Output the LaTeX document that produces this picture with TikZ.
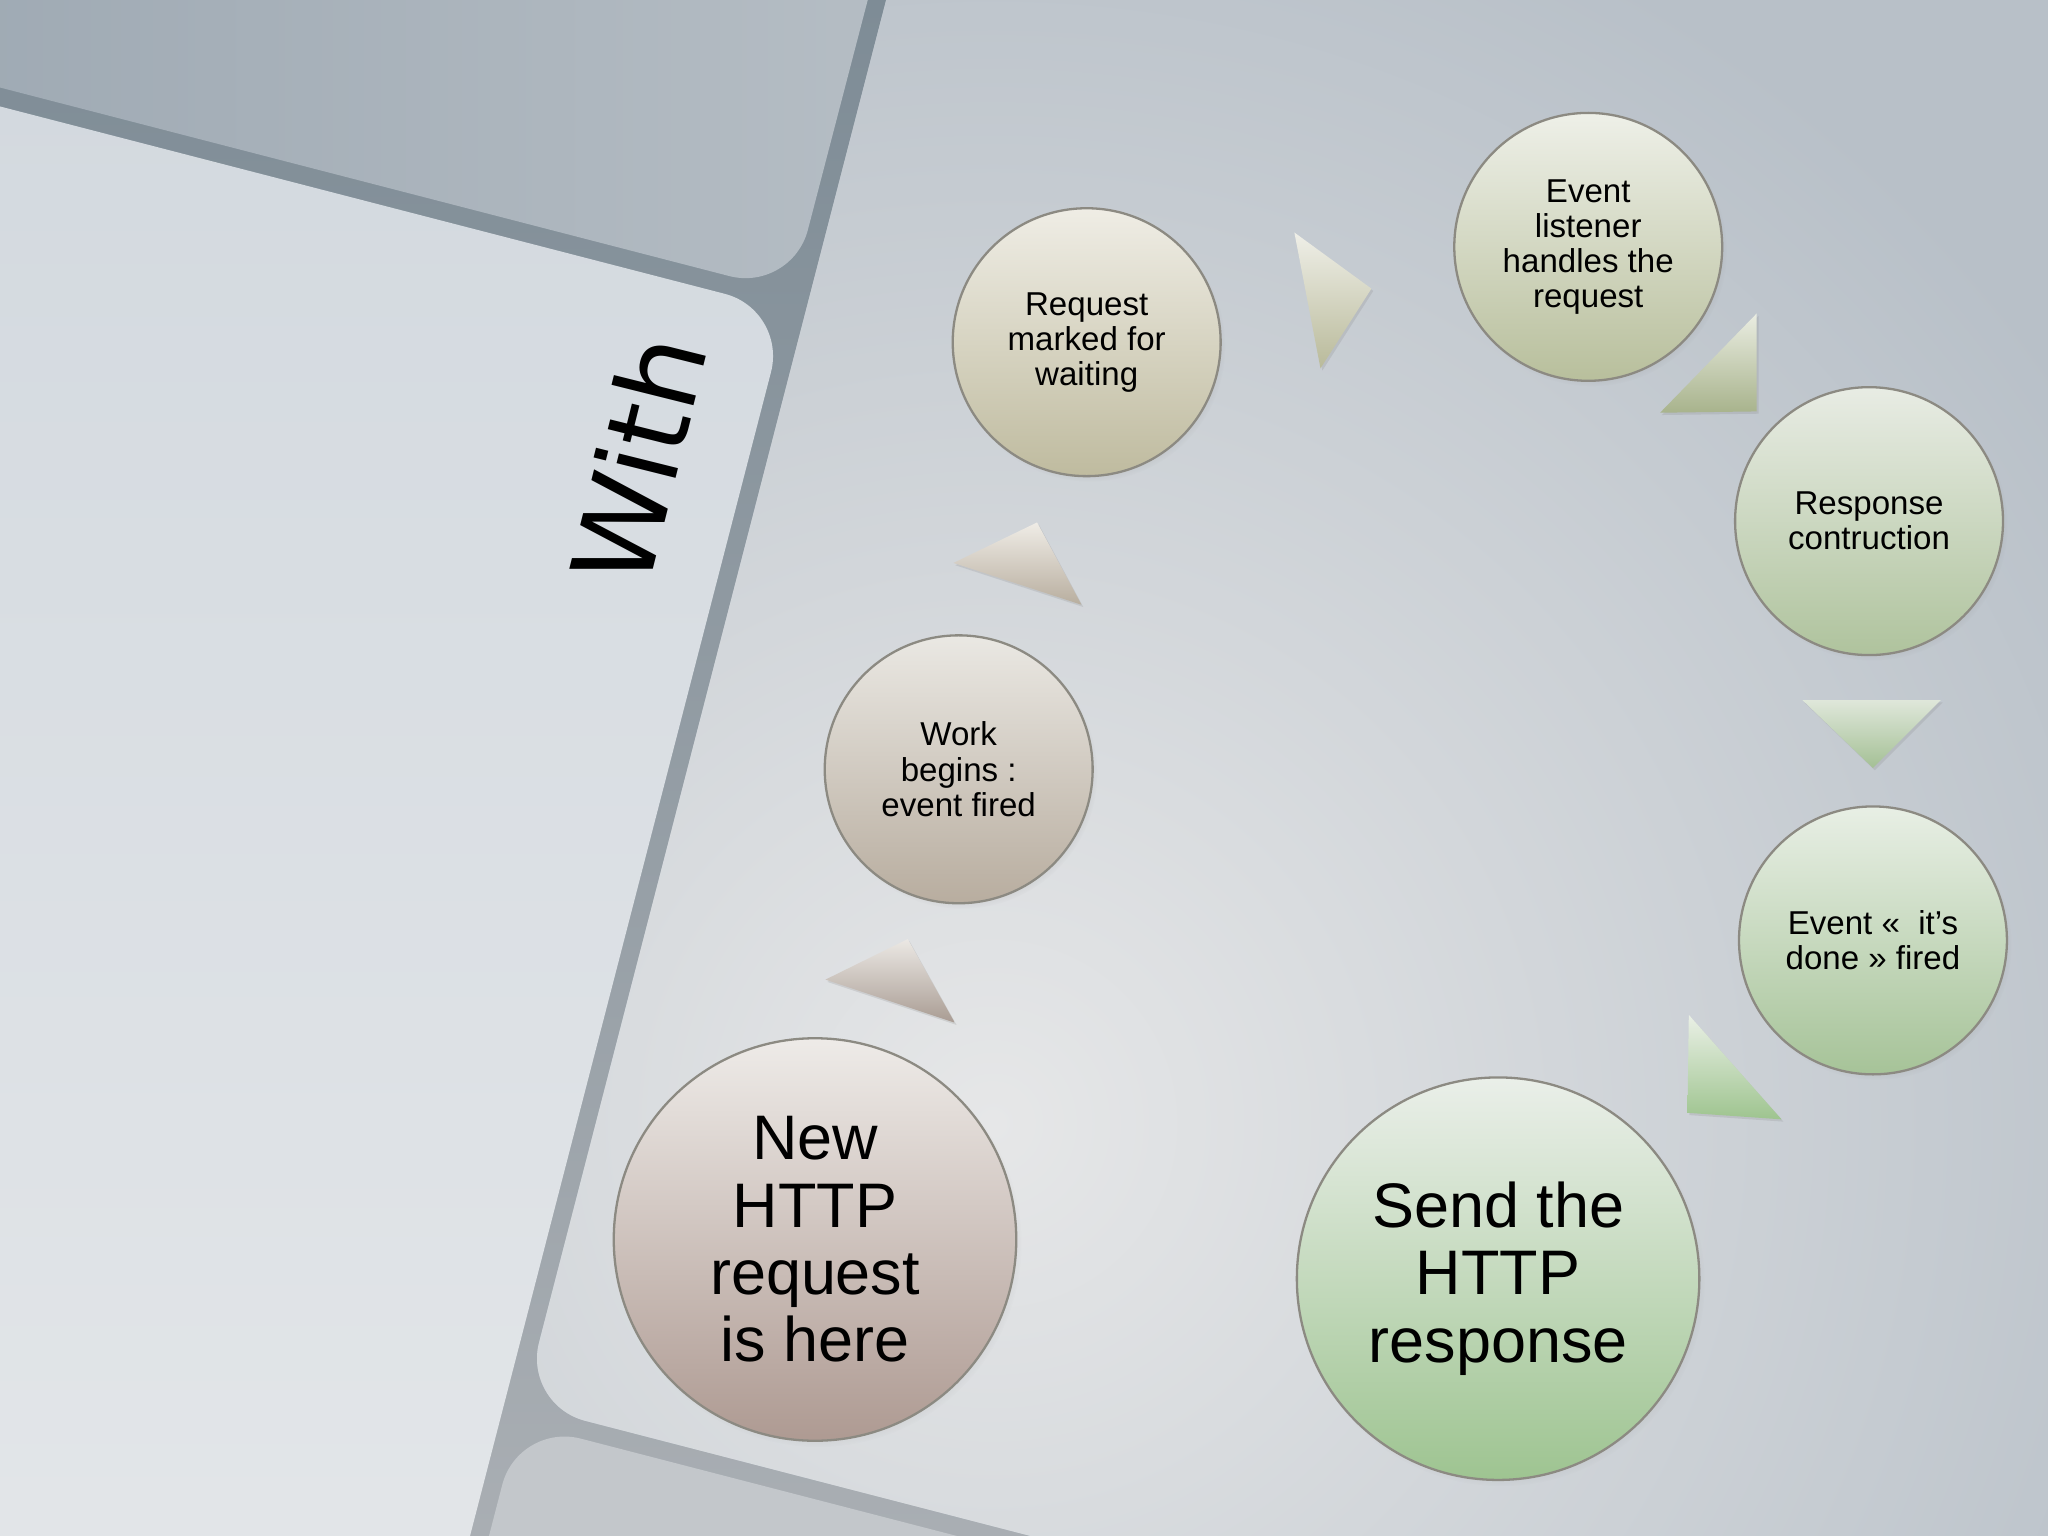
\documentclass[tikz,border=0pt]{standalone}
\usepackage{fontspec}
\setmainfont{Liberation Sans}
\newfontfamily\withfont{DejaVu Sans}
\usetikzlibrary{shadows}

% panel colours
\definecolor{gapdark}{HTML}{7E8C96}
\definecolor{gaplight}{HTML}{A9AEB3}
\definecolor{toppanel}{HTML}{9EA9B3}
\definecolor{toppanelr}{HTML}{B5BDC4}
\definecolor{leftpanel}{HTML}{D3D9DF}
\definecolor{leftpanelb}{HTML}{E3E6E9}
\definecolor{mainlight}{HTML}{E6E7E8}
\definecolor{maindark}{HTML}{B8C0C8}
\definecolor{botpanel}{HTML}{C3C7CB}
\definecolor{rimgray}{HTML}{8C8A82}
% bubble colours
\definecolor{c1top}{HTML}{EEEBE8}\definecolor{c1bot}{HTML}{AE9A92}
\definecolor{c2top}{HTML}{EAE8E3}\definecolor{c2bot}{HTML}{B8AD9F}
\definecolor{c3top}{HTML}{EFEDE5}\definecolor{c3bot}{HTML}{BFBB9F}
\definecolor{c4top}{HTML}{EEF0E8}\definecolor{c4bot}{HTML}{B8BF9C}
\definecolor{c5top}{HTML}{E8ECE4}\definecolor{c5bot}{HTML}{AFC39D}
\definecolor{c6top}{HTML}{E8EFE5}\definecolor{c6bot}{HTML}{A6C398}
\definecolor{c7top}{HTML}{EAEFE9}\definecolor{c7bot}{HTML}{9EC491}
% triangle colours
\definecolor{t1top}{HTML}{EBE8E4}\definecolor{t1bot}{HTML}{A99C93}
\definecolor{t2top}{HTML}{EFECE6}\definecolor{t2bot}{HTML}{B8AE9F}
\definecolor{t3top}{HTML}{EFEFE8}\definecolor{t3bot}{HTML}{B9BA9A}
\definecolor{t4top}{HTML}{EAEDE2}\definecolor{t4bot}{HTML}{A8B38C}
\definecolor{t5top}{HTML}{DFE7DA}\definecolor{t5bot}{HTML}{A4C095}
\definecolor{t6top}{HTML}{EAF0E6}\definecolor{t6bot}{HTML}{9EC48F}

\begin{document}
\begin{tikzpicture}[x=0.01cm,y=-0.01cm,
                bubble/.style={circle,draw=rimgray,line width=0.5pt,inner sep=0pt,align=center,
                    circular drop shadow={shadow xshift=0.7pt,shadow yshift=-0.9pt,opacity=0.3,shadow scale=1.01}},
                small/.style={bubble,minimum size=2.05cm,font=\fontsize{7.2}{7.65}\selectfont},
                big/.style={bubble,minimum size=3.08cm,font=\fontsize{13.7}{14.65}\selectfont},
                arrowtri/.style={drop shadow={shadow xshift=0.4pt,shadow yshift=-0.5pt,opacity=0.2}}
            ]
                \useasboundingbox (0,0) rectangle (1568,1176);
                \clip (0,0) rectangle (1568,1176);
% background and the four tilted panels
                \shade[top color=gapdark,bottom color=gaplight] (0,0) rectangle (1568,1176);
                \shade[left color=toppanel,right color=toppanelr,rounded corners=14]
                    (-60,51.5) -- (606.1,223.7) -- (680,-60) -- (-60,-60) -- cycle;
                \shade[top color=leftpanel,bottom color=leftpanelb,rounded corners=14]
                    (-60,66) -- (602.6,237.3) -- (343.3,1240) -- (-60,1240) -- cycle;
                \begin{scope}
                    \clip[rounded corners=14] (694,-60) -- (400.4,1075.5) -- (1640,1396) -- (1640,-60) -- cycle;
                    \fill[maindark] (0,0) rectangle (1568,1176);
                    \shade[inner color=mainlight,outer color=maindark] (760,860) circle (1000);
                \end{scope}
                \fill[botpanel,rounded corners=14]
                    (396.9,1089.1) -- (980,1240) -- (357.8,1240) -- cycle;

                \node[rotate=76,font=\withfont\fontsize{24.2}{28}\selectfont] (withlbl) at (488,352) {With};

% triangles between the steps
                \coordinate (t1-a) at (632,750); \coordinate (t1-b) at (695,719); \coordinate (t1-c) at (731,783);
                \coordinate (t2-a) at (730,431); \coordinate (t2-b) at (794,400); \coordinate (t2-c) at (828,463);
                \coordinate (t3-a) at (991,178); \coordinate (t3-b) at (1050,221); \coordinate (t3-c) at (1011,282);
                \coordinate (t4-a) at (1345,240); \coordinate (t4-b) at (1345,315); \coordinate (t4-c) at (1271,316);
                \coordinate (t5-a) at (1380,536); \coordinate (t5-b) at (1486,536); \coordinate (t5-c) at (1434,588);
                \coordinate (t6-a) at (1293,777); \coordinate (t6-b) at (1292,852); \coordinate (t6-c) at (1364,857);
                \foreach \n in {1,...,6}
                    {
                    \shade[arrowtri,top color=t\n top,bottom color=t\n bot] (t\n-a) -- (t\n-b) -- (t\n-c) -- cycle;
                    }

% the steps
                \node[big,top color=c1top,bottom color=c1bot] (newreq) at (624,949) {New\\HTTP\\request\\is here};
                \node[small,top color=c2top,bottom color=c2bot] (work) at (734,589) {Work\\begins :\\event fired};
                \node[small,top color=c3top,bottom color=c3bot] (marked) at (832,262) {Request\\marked for\\waiting};
                \node[small,top color=c4top,bottom color=c4bot] (listener) at (1216,189) {Event\\listener\\handles the\\request};
                \node[small,top color=c5top,bottom color=c5bot] (construct) at (1431,399) {Response\\contruction};
                \node[small,top color=c6top,bottom color=c6bot] (done) at (1434,720) {Event «\ \ it’s\\done » fired};
                \node[big,top color=c7top,bottom color=c7bot] (send) at (1147,979) {Send the\\HTTP\\response};

            \end{tikzpicture}
\end{document}
